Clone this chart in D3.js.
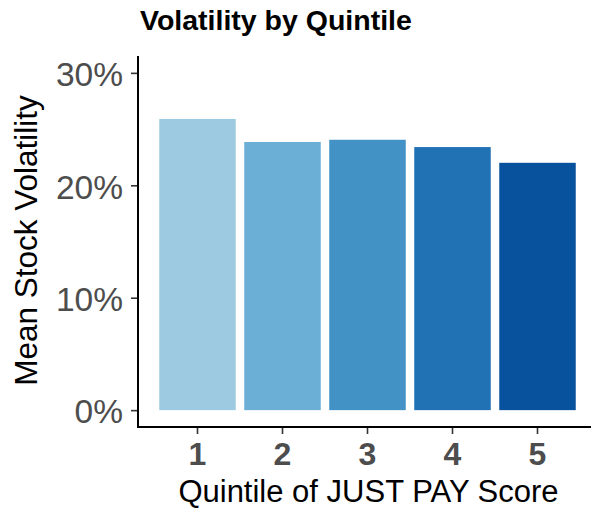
<!DOCTYPE html>
<html>
<head>
<meta charset="utf-8">
<script src="https://cdn.jsdelivr.net/npm/d3@7"></script>
<style>
  body { margin: 0; background: #fff; }
  svg { display: block; font-family: "Liberation Sans", Arial, sans-serif; }
</style>
</head>
<body>
<div id="chart"></div>
<script>
// data
var quintiles = ["1", "2", "3", "4", "5"];
var volatility = [25.9, 23.85, 24.05, 23.4, 22.0];
var barColors = ["#9ECAE1", "#6BAED6", "#4292C6", "#2171B5", "#08519C"];
var yTicks = [0, 10, 20, 30];

var svgWidth = 591;
var svgHeight = 513;

var svg = d3.select("#chart")
  .append("svg")
  .attr("width", svgWidth)
  .attr("height", svgHeight);

// panel edges (window.top is reserved, so use other names)
var panelLeft = 138, panelRight = 597, panelTop = 56, panelBottom = 427;

var x = d3.scaleBand()
  .domain(quintiles)
  .range([panelLeft, panelRight])
  .paddingInner(0.1)
  .paddingOuter(0.25);

var y = d3.scaleLinear()
  .domain([-1.5, 31.5])
  .range([panelBottom, panelTop]);

// bars
svg.append("g")
  .selectAll("rect")
  .data(quintiles)
  .enter()
  .append("rect")
  .attr("x", d => x(d))
  .attr("width", x.bandwidth())
  .attr("y", (d, i) => y(volatility[i]))
  .attr("height", (d, i) => y(0) - y(volatility[i]))
  .attr("fill", (d, i) => barColors[i]);

// y axis
var yAxis = svg.append("g")
  .attr("transform", `translate(${panelLeft},0)`)
  .call(d3.axisLeft(y).tickValues(yTicks).tickSize(7).tickPadding(8)
    .tickFormat(d => d + "%"));
yAxis.select(".domain").remove();
yAxis.selectAll(".tick line").attr("stroke", "#333").attr("stroke-width", 1.6);
yAxis.selectAll(".tick text")
  .attr("fill", "#4d4d4d")
  .attr("font-size", "33.5px")
  .attr("font-family", "Liberation Sans, Arial, sans-serif")
  .attr("dy", "0.38em");
yAxis.append("line")
  .attr("x1", 0).attr("x2", 0)
  .attr("y1", panelTop).attr("y2", panelBottom + 1)
  .attr("stroke", "#000").attr("stroke-width", 2);

// x axis
var xAxis = svg.append("g")
  .attr("transform", `translate(0,${panelBottom})`)
  .call(d3.axisBottom(x).tickSize(7).tickPadding(8));
xAxis.select(".domain").remove();
xAxis.selectAll(".tick line").attr("stroke", "#333").attr("stroke-width", 1.6);
xAxis.selectAll(".tick text")
  .attr("fill", "#4d4d4d")
  .attr("font-size", "32px")
  .attr("font-weight", "bold")
  .attr("font-family", "Liberation Sans, Arial, sans-serif");
xAxis.append("line")
  .attr("x1", panelLeft - 1).attr("x2", svgWidth)
  .attr("y1", 0).attr("y2", 0)
  .attr("stroke", "#000").attr("stroke-width", 2);

// title
svg.append("text")
  .attr("x", 140)
  .attr("y", 30)
  .attr("font-size", "28.5px")
  .attr("font-weight", "bold")
  .attr("fill", "#000")
  .text("Volatility by Quintile");

// axis titles
svg.append("text")
  .attr("x", 368.5)
  .attr("y", 501.5)
  .attr("text-anchor", "middle")
  .attr("font-size", "31px")
  .attr("fill", "#000")
  .text("Quintile of JUST PAY Score");

svg.append("text")
  .attr("transform", "translate(37,240.5) rotate(-90)")
  .attr("text-anchor", "middle")
  .attr("font-size", "31.5px")
  .attr("fill", "#000")
  .text("Mean Stock Volatility");
</script>
</body>
</html>
